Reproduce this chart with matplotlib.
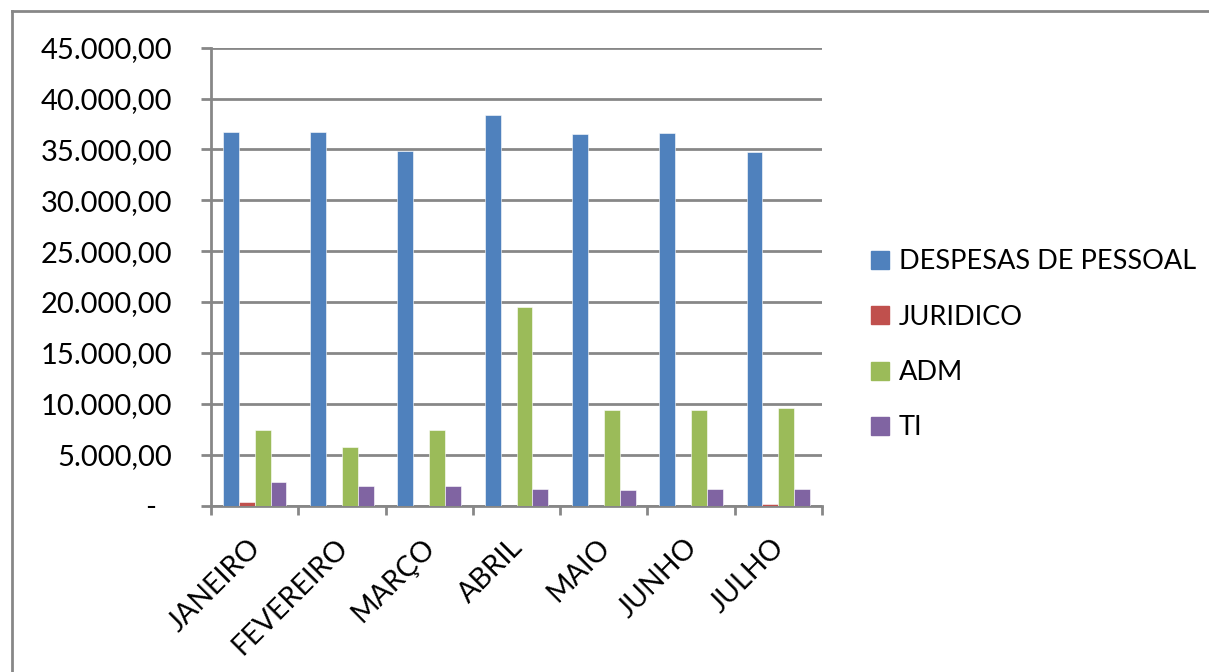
import numpy as np
import matplotlib
matplotlib.use("Agg")
import matplotlib.pyplot as plt
from matplotlib.lines import Line2D
from matplotlib.ticker import FuncFormatter

# === Data ===
months = ["JANEIRO", "FEVEREIRO", "MARÇO", "ABRIL", "MAIO", "JUNHO", "JULHO"]
despesas_pessoal = [36750, 36750, 34880, 38370, 36500, 36600, 34750]
juridico = [310, 0, 0, 0, 0, 0, 180]
adm = [7420, 5720, 7390, 19490, 9390, 9420, 9560]
ti = [2340, 1920, 1890, 1590, 1520, 1650, 1620]

series_names = ["DESPESAS DE PESSOAL", "JURIDICO", "ADM", "TI"]
series_colors = ["#4F81BD", "#C0504D", "#9BBB59", "#8064A2"]
y_ticks = [0, 5000, 10000, 15000, 20000, 25000, 30000, 35000, 40000, 45000]

plt.rcParams["font.family"] = ["Lato", "DejaVu Sans"]
GRAY = "#878787"

fig = plt.figure(figsize=(12.09, 6.72), dpi=100, facecolor="white")
ax = fig.add_axes([211 / 1209, 166.5 / 672, 611 / 1209, 457.8 / 672])

# Excel-style clustered bars: 4 bars + 150% gap per category
x = np.arange(len(months))
w = 1 / 5.5
all_series = [despesas_pessoal, juridico, adm, ti]
for i, (vals, col) in enumerate(zip(all_series, series_colors)):
    ax.bar(x + (i - 1.5) * w, vals, width=w, color=col,
           edgecolor="white", linewidth=0.4, zorder=3)

ax.set_xlim(-0.5, len(months) - 0.5)
ax.set_ylim(0, 45000)

# y axis
ax.set_yticks(y_ticks)
def fmt(v, pos):
    if v == 0:
        return "-  "
    return f"{v:,.2f}".replace(",", "X").replace(".", ",").replace("X", ".")
ax.yaxis.set_major_formatter(FuncFormatter(fmt))
ax.tick_params(axis="y", length=7, width=2, color=GRAY, labelsize=21, pad=21)
ax.grid(axis="y", color=GRAY, linewidth=2, zorder=0)

# x axis: ticks at category boundaries, labels rotated
ax.set_xticks(np.arange(len(months) + 1) - 0.5)
ax.set_xticklabels([])
ax.tick_params(axis="x", length=6.5, width=2, color=GRAY)
for xi, m in zip(x, months):
    ax.annotate(m, xy=(xi, 0), xycoords=("data", "axes fraction"),
                xytext=(2, -38), textcoords="offset pixels",
                rotation=45, rotation_mode="anchor", ha="right", va="center",
                fontsize=20.5)

for s in ["top", "right"]:
    ax.spines[s].set_visible(False)
for s in ["left", "bottom"]:
    ax.spines[s].set_color(GRAY)
    ax.spines[s].set_linewidth(2)

# legend
handles = [Line2D([], [], marker="s", linestyle="none", markersize=13,
                  markerfacecolor=c, markeredgecolor=c) for c in series_colors]
fig.legend(handles, series_names, loc="center left",
           bbox_to_anchor=(854 / 1209, 1 - 345 / 672), frameon=False,
           fontsize=19.5, handlelength=0.9, handletextpad=0.25,
           labelspacing=1.12, borderpad=0)

# outer chart frame (cut off at right and bottom)
fig.add_artist(Line2D([12 / 1209, 12 / 1209], [0, 1 - 11 / 672],
                      transform=fig.transFigure, color=GRAY, linewidth=2))
fig.add_artist(Line2D([12 / 1209, 1], [1 - 11 / 672, 1 - 11 / 672],
                      transform=fig.transFigure, color=GRAY, linewidth=2))

plt.savefig("out.png", dpi=100, facecolor="white")
